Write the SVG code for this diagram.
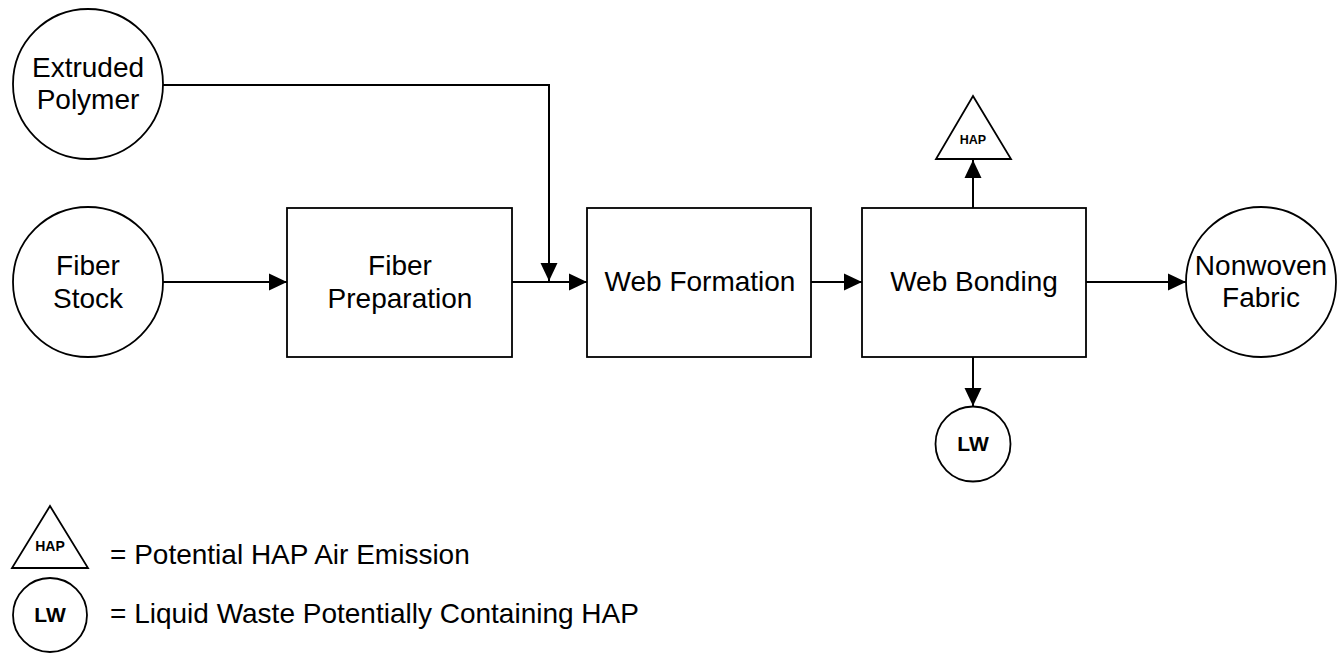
<svg xmlns="http://www.w3.org/2000/svg" width="1337" height="653" viewBox="0 0 1337 653">
<defs>
<marker id="arr" markerUnits="userSpaceOnUse" markerWidth="18" markerHeight="18" viewBox="0 0 18 18" refX="18" refY="9" orient="auto">
<path d="M0,0.5 L18,9 L0,17.5 Z" fill="#000"/>
</marker>
<style>
.shape{fill:#fff;stroke:#000;stroke-width:1.8}
.ln{fill:none;stroke:#000;stroke-width:2}
.lbl{font-family:"Liberation Sans",Arial,sans-serif;font-size:28px;fill:#000;text-anchor:middle}
.leg{font-family:"Liberation Sans",Arial,sans-serif;font-size:28px;fill:#000}
.b{font-family:"Liberation Sans",Arial,sans-serif;font-weight:bold;fill:#000;text-anchor:middle}
</style>
</defs>
<rect width="1337" height="653" fill="#fff"/>
<g id="connectors">
<path class="ln" d="M163,85 H549 V281" marker-end="url(#arr)"/>
<path class="ln" d="M163,282 H287" marker-end="url(#arr)"/>
<path class="ln" d="M512,282 H587" marker-end="url(#arr)"/>
<path class="ln" d="M811,282 H862" marker-end="url(#arr)"/>
<path class="ln" d="M1086,282 H1186" marker-end="url(#arr)"/>
<path class="ln" d="M973,208 V160" marker-end="url(#arr)"/>
<path class="ln" d="M973,357 V406" marker-end="url(#arr)"/>
</g>
<g id="extruded-polymer">
<ellipse class="shape" cx="88" cy="84" rx="75" ry="75"/>
<text class="lbl" x="88" y="77">Extruded</text>
<text class="lbl" x="88" y="109">Polymer</text>
</g>
<g id="fiber-stock">
<ellipse class="shape" cx="88" cy="282" rx="75" ry="75"/>
<text class="lbl" x="88" y="275">Fiber</text>
<text class="lbl" x="88" y="308">Stock</text>
</g>
<g id="fiber-preparation">
<rect class="shape" x="287" y="208" width="225" height="149"/>
<text class="lbl" x="400" y="275">Fiber</text>
<text class="lbl" x="400" y="308">Preparation</text>
</g>
<g id="web-formation">
<rect class="shape" x="587" y="208" width="224" height="149"/>
<text class="lbl" x="700" y="291">Web Formation</text>
</g>
<g id="web-bonding">
<rect class="shape" x="862" y="208" width="224" height="149"/>
<text class="lbl" x="974" y="291">Web Bonding</text>
</g>
<g id="nonwoven-fabric">
<ellipse class="shape" cx="1261" cy="282" rx="75" ry="75"/>
<text class="lbl" x="1261" y="275">Nonwoven</text>
<text class="lbl" x="1261" y="307">Fabric</text>
</g>
<g id="hap-emission">
<path class="shape" d="M973,96 L1011,159 L936,159 Z"/>
<text class="b" x="973" y="144" font-size="12.5">HAP</text>
</g>
<g id="liquid-waste">
<circle class="shape" cx="973" cy="444" r="37.5"/>
<text class="b" x="973" y="451" font-size="21">LW</text>
</g>
<g id="legend">
<path class="shape" d="M50,506 L88,568 L12,568 Z"/>
<text class="b" x="50" y="551" font-size="14">HAP</text>
<text class="leg" x="110" y="564">= Potential HAP Air Emission</text>
<ellipse class="shape" cx="50" cy="615" rx="37" ry="37"/>
<text class="b" x="50" y="622" font-size="21">LW</text>
<text class="leg" x="110" y="623">= Liquid Waste Potentially Containing HAP</text>
</g>
</svg>
